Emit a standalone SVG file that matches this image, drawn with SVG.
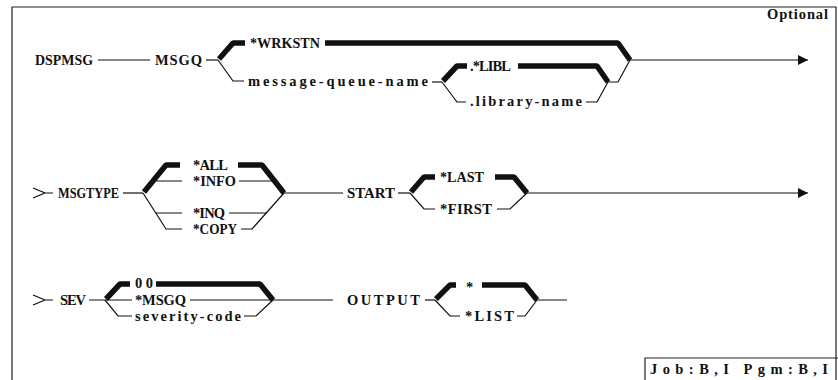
<svg xmlns="http://www.w3.org/2000/svg" width="838" height="380" viewBox="0 0 838 380">
<style>
text{font-family:"Liberation Serif","Times New Roman",serif;font-weight:bold;font-size:14.5px;fill:#111}
.t{fill:none;stroke:#111;stroke-width:1.2}
.k{fill:none;stroke:#111;stroke-width:5.5;stroke-linejoin:bevel}
.f{fill:none;stroke:#222;stroke-width:1.2}
</style>
<defs>
<marker id="ah" viewBox="0 0 10 10" refX="10" refY="5" markerWidth="10" markerHeight="10" markerUnits="userSpaceOnUse" orient="auto"><path d="M0,0 L10,5 L0,10 Z" fill="#111"/></marker>
</defs>
<g id="frame">
<path class="f" d="M12,381 V7 H836 V381"/>
<text x="767" y="19" textLength="61" lengthAdjust="spacing">Optional</text>
</g>
<g id="connectors">
<path class="t" d="M98,60 H150"/>
<path class="t" d="M206,60 H218"/>
<path class="k" d="M219,59 L233,43 H245"/>
<path class="k" d="M325,43 H618 L630,60"/>
<path class="t" d="M630,60 H808" marker-end="url(#ah)"/>
<path class="t" d="M218,60 L233,81 H244"/>
<path class="t" d="M432,82 H442"/>
<path class="k" d="M443,81 L457,66 H467"/>
<path class="k" d="M518,66 H597 L608,82"/>
<path class="t" d="M442,82 L457,102 H466"/>
<path class="t" d="M586,102 H597 L608,82 H618 L630,60"/>

<path class="t" d="M33,188 L45,193 L33,198 M45,193 H53"/>
<path class="t" d="M123,193 H143"/>
<path class="k" d="M144,192 L166,165 H180"/>
<path class="k" d="M238,165 H262 L284,193"/>
<path class="t" d="M153,181 H182 M239,181 H275"/>
<path class="t" d="M143,193 L166,229 H182"/>
<path class="t" d="M241,229 H252 L284,193"/>
<path class="t" d="M156,213 H182 M229,213 H267"/>
<path class="t" d="M284,193 H343"/>
<path class="t" d="M398,193 H410"/>
<path class="k" d="M411,192 L424,177 H435"/>
<path class="k" d="M495,177 H514 L527,193"/>
<path class="t" d="M410,193 L424,209 H435"/>
<path class="t" d="M497,209 H510 L527,193"/>
<path class="t" d="M527,193 H808" marker-end="url(#ah)"/>

<path class="t" d="M33,295 L45,300 L33,305 M45,300 H53"/>
<path class="t" d="M89,300 H132"/>
<path class="k" d="M106,299 L120,284 H130"/>
<path class="k" d="M156,284 H260 L273,300"/>
<path class="t" d="M190,300 H333"/>
<path class="t" d="M105,300 L118,316 H132"/>
<path class="t" d="M244,316 H256 L273,300"/>
<path class="t" d="M425,300 H435"/>
<path class="k" d="M436,299 L450,285 H456"/>
<path class="k" d="M482,285 H525 L537,300"/>
<path class="t" d="M435,300 L450,316 H460"/>
<path class="t" d="M517,316 H525 L537,300 H567"/>
</g>
<g id="row1">
<text x="35" y="65" textLength="58" lengthAdjust="spacingAndGlyphs">DSPMSG</text>
<text x="155" y="65" textLength="47" lengthAdjust="spacing">MSGQ</text>
<text x="250" y="48" textLength="70" lengthAdjust="spacingAndGlyphs">*WRKSTN</text>
<text x="248" y="86" textLength="180" lengthAdjust="spacing">message-queue-name</text>
<text x="470" y="71" textLength="41" lengthAdjust="spacing">.*LIBL</text>
<text x="470" y="106" textLength="112" lengthAdjust="spacing">.library-name</text>
</g>
<g id="row2">
<text x="58" y="198" textLength="61" lengthAdjust="spacingAndGlyphs">MSGTYPE</text>
<text x="193" y="170" textLength="35" lengthAdjust="spacing">*ALL</text>
<text x="193" y="186" textLength="43" lengthAdjust="spacingAndGlyphs">*INFO</text>
<text x="193" y="218" textLength="32" lengthAdjust="spacing">*INQ</text>
<text x="193" y="234" textLength="44" lengthAdjust="spacingAndGlyphs">*COPY</text>
<text x="347" y="198" textLength="48" lengthAdjust="spacingAndGlyphs">START</text>
<text x="440" y="182" textLength="44" lengthAdjust="spacingAndGlyphs">*LAST</text>
<text x="440" y="214" textLength="52" lengthAdjust="spacing">*FIRST</text>
</g>
<g id="row3">
<text x="60" y="305" textLength="26" lengthAdjust="spacing">SEV</text>
<text x="135" y="288" textLength="18" lengthAdjust="spacing">00</text>
<text x="135" y="305" textLength="51" lengthAdjust="spacing">*MSGQ</text>
<text x="135" y="321" textLength="106" lengthAdjust="spacing">severity-code</text>
<text x="347" y="305" textLength="73" lengthAdjust="spacing">OUTPUT</text>
<text x="466" y="292">*</text>
<text x="465" y="321" textLength="49" lengthAdjust="spacing">*LIST</text>
</g>
<g id="jobbox">
<path class="f" d="M645,381 V358 H838"/>
<text x="650" y="374" textLength="178" lengthAdjust="spacing">Job:B,I Pgm:B,I</text>
</g>
</svg>
